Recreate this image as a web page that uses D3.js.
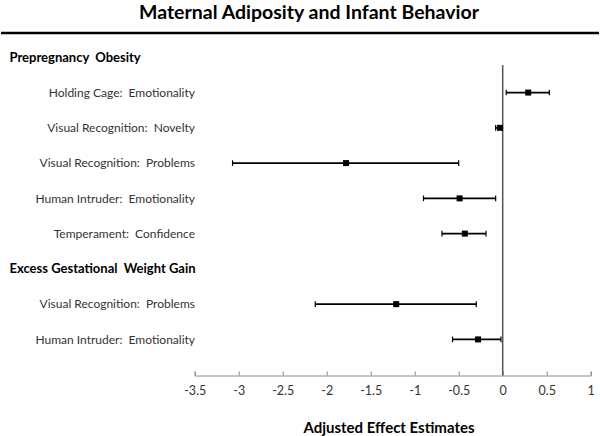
<!DOCTYPE html>
<html>
<head>
<meta charset="utf-8">
<script src="https://cdn.jsdelivr.net/npm/d3@7"></script>
<style>
  html, body { margin: 0; padding: 0; background: #fff; }
  svg { display: block; font-family: Lato, "Open Sans", sans-serif; }
  text { white-space: pre; }
</style>
</head>
<body>
<svg id="chart" width="600" height="436"></svg>
<script>
// ---- data ----
const groups = ["Prepregnancy  Obesity", "Excess Gestational  Weight Gain"];
const categories = [
  "Holding Cage:  Emotionality",
  "Visual Recognition:  Novelty",
  "Visual Recognition:  Problems",
  "Human Intruder:  Emotionality",
  "Temperament:  Confidence",
  "Visual Recognition:  Problems",
  "Human Intruder:  Emotionality"
];
const categoryGroup = [0, 0, 0, 0, 0, 1, 1];
const estimates = [0.29, -0.03, -1.78, -0.49, -0.43, -1.21, -0.28];
const lower     = [0.04, -0.08, -3.07, -0.90, -0.69, -2.13, -0.57];
const upper     = [0.53, -0.01, -0.50, -0.08, -0.19, -0.30, -0.02];
const tickValues = [-3.5, -3, -2.5, -2, -1.5, -1, -0.5, 0, 0.5, 1];
const tickLabels = ["-3.5", "-3", "-2.5", "-2", "-1.5", "-1", "-0.5", "0", "0.5", "1"];
const title = "Maternal Adiposity and Infant Behavior";
const xTitle = "Adjusted Effect Estimates";

// ---- build row list (headers + items) ----
const rows = [];
groups.forEach((g, gi) => {
  rows.push({ type: "header", label: g });
  categories.forEach((c, i) => {
    if (categoryGroup[i] === gi) rows.push({ type: "item", label: c, est: estimates[i], lo: lower[i], hi: upper[i] });
  });
});

const svg = d3.select("#chart");

const x = d3.scaleLinear().domain([-3.5, 1]).range([194.7, 590.7]);
const y = d3.scalePoint().domain(d3.range(rows.length)).range([57.3, 339.4]);

// title
svg.append("text")
  .attr("x", 309).attr("y", 19)
  .attr("text-anchor", "middle")
  .attr("font-size", 19.5).attr("font-weight", "bold").attr("fill", "#000")
  .text(title);

// rule under title
svg.append("line")
  .attr("x1", 1).attr("x2", 599).attr("y1", 33).attr("y2", 33)
  .attr("stroke", "#000").attr("stroke-width", 2.5);

// x axis
const axisY = 375.5;
const axis = d3.axisBottom(x)
  .tickValues(tickValues)
  .tickFormat((d, i) => tickLabels[i])
  .tickSize(-4)
  .tickPadding(11);
const ag = svg.append("g").attr("transform", `translate(0,${axisY})`).call(axis);
ag.select(".domain").attr("stroke", "#8c8c8c").attr("stroke-width", 1);
ag.selectAll(".tick line").attr("stroke", "#8c8c8c");
ag.selectAll(".tick text").attr("font-size", 12.5).attr("fill", "#333").attr("font-family", "Lato, sans-serif");

// zero line
svg.append("line")
  .attr("x1", x(0)).attr("x2", x(0)).attr("y1", 65).attr("y2", axisY)
  .attr("stroke", "#555").attr("stroke-width", 1.5);

// x title
svg.append("text")
  .attr("x", 389).attr("y", 433)
  .attr("text-anchor", "middle")
  .attr("font-size", 15).attr("font-weight", "bold").attr("fill", "#000")
  .text(xTitle);

// row labels
rows.forEach((r, i) => {
  if (r.type === "header") {
    svg.append("text")
      .attr("x", 9.5).attr("y", y(i)).attr("dy", "0.35em")
      .attr("font-size", 13).attr("font-weight", "bold").attr("fill", "#000")
      .text(r.label);
  } else {
    svg.append("text")
      .attr("x", 195).attr("y", y(i)).attr("dy", "0.35em")
      .attr("text-anchor", "end")
      .attr("font-size", 12).attr("fill", "#333")
      .text(r.label);
  }
});

// error bars
const items = rows.map((r, i) => Object.assign({ idx: i }, r)).filter(r => r.type === "item");
const eg = svg.append("g");
eg.selectAll("line.bar").data(items).join("line")
  .attr("class", "bar")
  .attr("x1", d => x(d.lo)).attr("x2", d => x(d.hi))
  .attr("y1", d => y(d.idx)).attr("y2", d => y(d.idx))
  .attr("stroke", "#000").attr("stroke-width", 1.8);
eg.selectAll("line.capl").data(items).join("line")
  .attr("class", "capl")
  .attr("x1", d => x(d.lo)).attr("x2", d => x(d.lo))
  .attr("y1", d => y(d.idx) - 2.8).attr("y2", d => y(d.idx) + 2.8)
  .attr("stroke", "#000").attr("stroke-width", 1.2);
eg.selectAll("line.caph").data(items).join("line")
  .attr("class", "caph")
  .attr("x1", d => x(d.hi)).attr("x2", d => x(d.hi))
  .attr("y1", d => y(d.idx) - 2.8).attr("y2", d => y(d.idx) + 2.8)
  .attr("stroke", "#000").attr("stroke-width", 1.2);
eg.selectAll("rect").data(items).join("rect")
  .attr("x", d => x(d.est) - 3).attr("y", d => y(d.idx) - 3)
  .attr("width", 6).attr("height", 6)
  .attr("fill", "#000");
</script>
</body>
</html>
